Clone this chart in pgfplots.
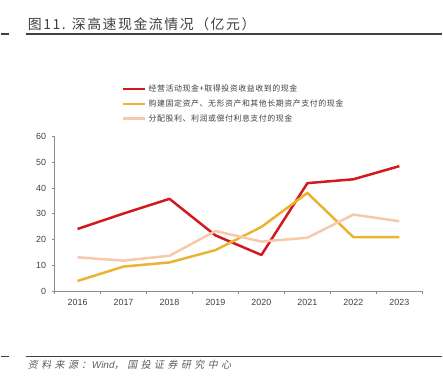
\documentclass[border=0pt]{standalone}
\usepackage{pgfplots}
\pgfplotsset{compat=1.18}
\usepackage{fontspec}
\setmainfont{Liberation Sans}
\newfontfamily\cjk{Noto Sans CJK SC}
\newfontfamily\cjktitle[LetterSpace=11]{Noto Sans CJK SC}
\newfontfamily\cjkleg[LetterSpace=7]{Noto Sans CJK SC}
\newfontfamily\cjksrc[LetterSpace=35,FakeSlant=0.2]{Noto Sans CJK SC}
\newfontfamily\srclat[FakeSlant=0.2]{Liberation Sans}
\definecolor{cred}{HTML}{D2191F}
\definecolor{cyel}{HTML}{E8B431}
\definecolor{cpink}{HTML}{F8C8AA}
\definecolor{ctxt}{HTML}{404040}
\definecolor{caxis}{HTML}{8C8C8C}
\begin{document}
\begin{tikzpicture}[x=1bp,y=1bp]
\path (0,0) rectangle (443,388);
% title and rules
\node[anchor=west,inner sep=0pt,text=ctxt,font=\cjktitle\fontsize{14}{14}\selectfont] at (27,364) {图11. 深高速现金流情况（亿元）};
\draw[ctxt,line width=1.5bp] (25,354) -- (443,354);
\draw[ctxt,line width=1.5bp] (0,354) -- (8,354);
\draw[ctxt,line width=1.2bp] (25,30) -- (443,30);
\draw[ctxt,line width=1.2bp] (0,30) -- (8,30);
\node[anchor=west,inner sep=0pt,text=ctxt!85,font=\cjksrc\fontsize{10}{10}\selectfont] at (27,22) {资料来源：{\srclat Wind}，国投证券研究中心};
\begin{axis}[
  scale only axis,
  width=369bp, height=155bp,
  at={(54bp,96bp)}, anchor=south west,
  xmin=-0.5, xmax=7.5, ymin=0, ymax=60,
  axis x line*=bottom, axis y line*=left,
  axis line style={caxis, line width=0.8bp},
  xtick={-0.5,0.5,...,7.5}, xticklabels={},
  extra x ticks={0,1,2,3,4,5,6,7},
  extra x tick labels={2016,2017,2018,2019,2020,2021,2022,2023},
  extra x tick style={major tick length=0pt, xticklabel style={yshift=-5bp}},
  ytick={0,10,...,60},
  tick align=outside, major tick length=3bp,
  tick style={caxis, line width=0.8bp},
  /pgf/number format/assume math mode=true,
  ticklabel style={font=\fontsize{9}{9}\selectfont, text=ctxt},
  yticklabel style={xshift=-2bp},
  legend style={draw=none, fill=none, at={(0.175,1.36)}, anchor=north west,
    font=\cjkleg\fontsize{8}{8}\selectfont, text=ctxt, row sep=2.5bp,
    /tikz/every even column/.append style={column sep=0bp}},
  legend cell align=left,
  legend image code/.code={\draw[#1] (0bp,0bp) -- (22bp,0bp);},
  every axis plot/.append style={line width=2.5bp, line join=round},
]
\addplot[cred] coordinates {(0,24.1) (1,30.1) (2,35.8) (3,21.6) (4,14.0) (5,41.9) (6,43.4) (7,48.5)};
\addlegendentry{经营活动现金+取得投资收益收到的现金}
\addplot[cyel] coordinates {(0,3.9) (1,9.5) (2,11.1) (3,15.9) (4,24.9) (5,38.1) (6,20.9) (7,20.9)};
\addlegendentry{购建固定资产、无形资产和其他长期资产支付的现金}
\addplot[cpink] coordinates {(0,13.1) (1,11.8) (2,13.7) (3,23.3) (4,19.2) (5,20.7) (6,29.7) (7,27.1)};
\addlegendentry{分配股利、利润或偿付利息支付的现金}
\end{axis}
\end{tikzpicture}
\end{document}
